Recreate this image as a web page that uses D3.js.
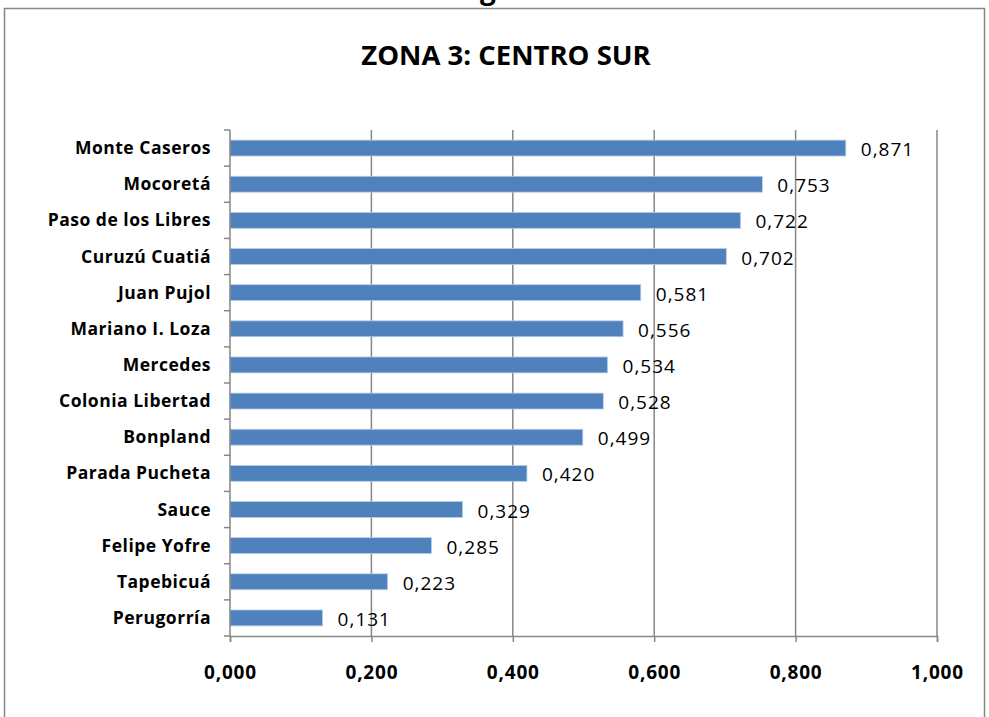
<!DOCTYPE html>
<html>
<head>
<meta charset="utf-8">
<script src="https://cdn.jsdelivr.net/npm/d3@7"></script>
<style>
  body { margin: 0; background: #fff; }
  #chart { width: 989px; height: 717px; }
</style>
</head>
<body>
<div id="chart"></div>
<script>
// data
const categories = [
  "Monte Caseros", "Mocoretá", "Paso de los Libres", "Curuzú Cuatiá",
  "Juan Pujol", "Mariano I. Loza", "Mercedes", "Colonia Libertad",
  "Bonpland", "Parada Pucheta", "Sauce", "Felipe Yofre",
  "Tapebicuá", "Perugorría"
];
const values = [
  0.871, 0.753, 0.722, 0.702, 0.581, 0.556, 0.534, 0.528,
  0.499, 0.420, 0.329, 0.285, 0.223, 0.131
];
const xTicks = [0, 0.2, 0.4, 0.6, 0.8, 1.0];
const title = "ZONA 3: CENTRO SUR";

const width = 989, height = 717;
const margin = { top: 130, right: 52, bottom: 81, left: 230 };
const font = "'Open Sans', sans-serif";
const fmt = (v) => d3.format(".3f")(v).replace(".", ",");

const svg = d3.select("#chart").append("svg")
  .attr("width", width)
  .attr("height", height);

// cut-off text from above the chart frame (also cut in the source)
svg.append("text")
  .attr("x", 488).attr("y", -1)
  .attr("text-anchor", "middle")
  .style("font", "bold 28px " + font)
  .text("g");

// outer chart frame
svg.append("rect")
  .attr("x", 4.5).attr("y", 8.5)
  .attr("width", 980).attr("height", 720)
  .attr("fill", "none")
  .attr("stroke", "#868686")
  .attr("stroke-width", 1.5);

svg.append("text")
  .attr("x", 506).attr("y", 65)
  .attr("text-anchor", "middle")
  .style("font", "bold 27.5px " + font)
  .style("letter-spacing", "0px")
  .text(title);

const x = d3.scaleLinear()
  .domain([0, 1])
  .range([margin.left, width - margin.right]);
const y = d3.scaleBand()
  .domain(categories)
  .range([margin.top, height - margin.bottom])
  .paddingInner(0.56)
  .paddingOuter(0.28);

const g = svg.append("g");

// vertical gridlines
g.selectAll("line.grid")
  .data(xTicks.slice(1))
  .enter().append("line")
  .attr("class", "grid")
  .attr("x1", (d) => x(d)).attr("x2", (d) => x(d))
  .attr("y1", margin.top).attr("y2", height - margin.bottom)
  .attr("stroke", "#868686")
  .attr("stroke-width", 1.5);

// bars
g.selectAll("rect.bar")
  .data(values)
  .enter().append("rect")
  .attr("class", "bar")
  .attr("x", x(0))
  .attr("y", (d, i) => y(categories[i]))
  .attr("width", (d) => x(d) - x(0))
  .attr("height", y.bandwidth())
  .attr("fill", "#4F81BD")
  .attr("stroke", "#b9cde5")
  .attr("stroke-width", 0.8);

// value labels
g.selectAll("text.val")
  .data(values)
  .enter().append("text")
  .attr("class", "val")
  .attr("x", (d) => x(d) + 15)
  .attr("y", (d, i) => y(categories[i]) + y.bandwidth() / 2 + 8)
  .style("font", "19px " + font)
  .style("letter-spacing", "1px")
  .attr("fill", "#000")
  .text((d) => fmt(d));

// bottom axis
const xAxis = d3.axisBottom(x)
  .tickValues(xTicks)
  .tickSize(6)
  .tickFormat(fmt);
const xg = svg.append("g")
  .attr("transform", "translate(0," + (height - margin.bottom) + ")")
  .call(xAxis);
xg.select(".domain").attr("stroke", "#868686").attr("stroke-width", 1.5);
xg.selectAll(".tick line").attr("stroke", "#868686").attr("stroke-width", 1.5);
xg.selectAll(".tick text")
  .attr("y", 30)
  .style("font", "bold 19px " + font)
  .style("letter-spacing", "0.8px")
  .attr("fill", "#000");

// left category axis, ticks sit on band boundaries
const yLine = svg.append("g");
yLine.append("line")
  .attr("x1", margin.left).attr("x2", margin.left)
  .attr("y1", margin.top).attr("y2", height - margin.bottom)
  .attr("stroke", "#868686").attr("stroke-width", 1.5);
const step = y.step();
yLine.selectAll("line.tk")
  .data(d3.range(categories.length + 1))
  .enter().append("line")
  .attr("class", "tk")
  .attr("x1", margin.left - 6).attr("x2", margin.left)
  .attr("y1", (i) => margin.top + i * step)
  .attr("y2", (i) => margin.top + i * step)
  .attr("stroke", "#868686").attr("stroke-width", 1.5);

yLine.selectAll("text.cat")
  .data(categories)
  .enter().append("text")
  .attr("class", "cat")
  .attr("x", margin.left - 19)
  .attr("y", (d) => y(d) + y.bandwidth() / 2 + 6)
  .attr("text-anchor", "end")
  .style("font", "bold 17.5px " + font)
  .style("letter-spacing", "0.5px")
  .attr("fill", "#000")
  .text((d) => d);
</script>
</body>
</html>
